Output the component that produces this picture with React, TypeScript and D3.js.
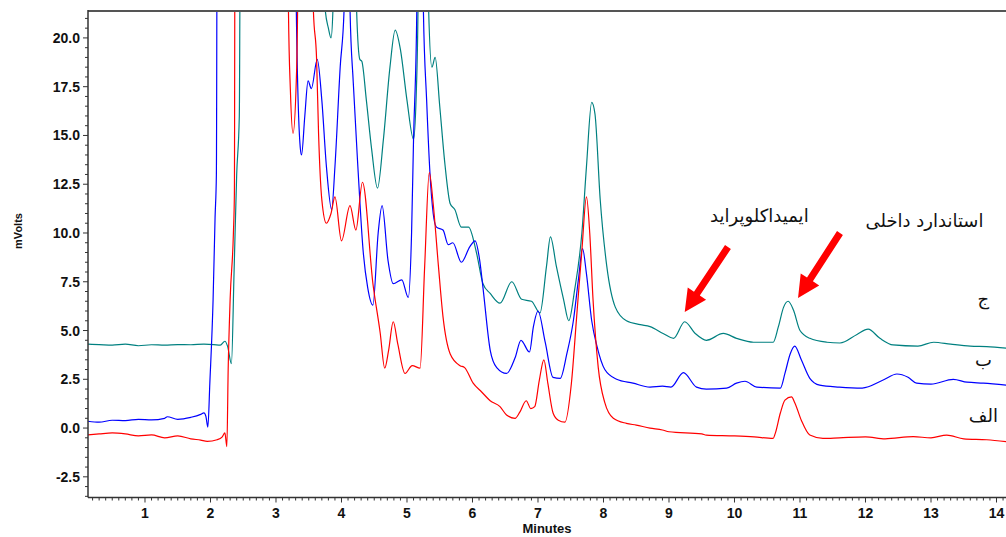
import React from 'react';
import * as d3 from 'd3';

// ---------- data (minutes, mVolts) ----------
const tealTrace: [number, number][] = [
  [0.13, 4.3], [0.3, 4.28], [0.5, 4.25], [0.7, 4.3], [0.9, 4.22], [1.1, 4.27], [1.3, 4.25], [1.5, 4.28],
  [1.7, 4.27], [1.9, 4.3], [2.05, 4.28], [2.15, 4.25], [2.22, 4.45], [2.26, 4.2], [2.32, 3.3], [2.36, 8],
  [2.4, 13], [2.44, 16], [2.47, 40], [3.7, 40], [3.75, 21.5], [3.8, 20.5], [3.84, 20.0], [3.87, 21.5],
  [3.9, 40], [4.2, 40], [4.23, 21.5], [4.28, 18.9], [4.31, 18.8], [4.38, 16.8], [4.46, 14.3], [4.55, 12.3],
  [4.64, 14.8], [4.74, 18.5], [4.82, 20.4], [4.9, 19.4], [5.0, 16.8], [5.1, 14.8], [5.14, 17], [5.17, 22],
  [5.2, 40], [5.3, 40], [5.33, 21.5], [5.38, 18.5], [5.43, 19.0], [5.5, 16.5], [5.58, 13.5], [5.66, 11.5],
  [5.73, 11.2], [5.83, 10.3], [5.94, 10.3], [6.06, 9.0], [6.16, 7.4], [6.27, 6.9], [6.42, 6.4], [6.6, 7.5],
  [6.75, 6.6], [6.9, 6.5], [7.03, 5.9], [7.13, 8.3], [7.19, 9.8], [7.28, 8.3], [7.39, 6.6], [7.47, 5.5],
  [7.56, 7.1], [7.67, 10.0], [7.74, 13.4], [7.82, 16.7], [7.87, 16.1], [7.95, 11.7], [8.05, 8.3], [8.18, 6.2],
  [8.35, 5.5], [8.56, 5.3], [8.71, 5.2], [8.91, 4.85], [9.07, 4.6], [9.24, 5.45], [9.4, 4.85], [9.57, 4.5],
  [9.83, 4.85], [10.03, 4.6], [10.29, 4.4], [10.59, 4.4], [10.67, 5.2], [10.75, 6.2], [10.82, 6.5], [10.9, 6.05],
  [11.0, 5.0], [11.15, 4.6], [11.41, 4.4], [11.61, 4.36], [11.87, 4.8], [12.04, 5.07], [12.22, 4.6], [12.42, 4.26],
  [12.8, 4.2], [13.04, 4.4], [13.3, 4.3], [13.6, 4.2], [13.85, 4.17], [14.15, 4.1],
];

const blueTrace: [number, number][] = [
  [0.13, 0.35], [0.3, 0.3], [0.5, 0.4], [0.7, 0.38], [0.9, 0.45], [1.1, 0.42], [1.3, 0.5], [1.34, 0.58],
  [1.5, 0.45], [1.7, 0.55], [1.85, 0.7], [1.9, 0.78], [1.93, 0.6], [1.96, 0.05], [1.99, 2.3], [2.04, 6.6],
  [2.07, 10.8], [2.09, 13], [2.11, 40], [3.28, 40], [3.31, 21.5], [3.37, 14.4], [3.39, 14.0], [3.44, 16],
  [3.49, 17.8], [3.54, 17.4], [3.63, 18.9], [3.7, 16.8], [3.77, 13.4], [3.85, 11.2], [3.9, 13.4], [3.98, 18.5],
  [4.04, 21.5], [4.06, 40], [4.11, 40], [4.13, 21.5], [4.18, 17.7], [4.25, 13.4], [4.33, 9.1], [4.4, 7.2],
  [4.48, 6.3], [4.56, 10.0], [4.62, 11.4], [4.71, 8.6], [4.79, 7.4], [4.92, 7.6], [5.02, 6.7], [5.07, 10.0],
  [5.1, 14.8], [5.15, 21.5], [5.17, 40], [5.23, 40], [5.25, 21.5], [5.3, 16.8], [5.35, 13.1], [5.4, 11.0],
  [5.45, 10.3], [5.55, 10.15], [5.63, 9.4], [5.7, 9.5], [5.83, 8.5], [5.96, 9.3], [6.04, 9.6], [6.11, 8.6],
  [6.16, 7.2], [6.27, 4.0], [6.37, 3.1], [6.52, 2.8], [6.65, 3.6], [6.74, 4.5], [6.87, 3.9], [6.93, 5.2],
  [7.0, 6.0], [7.11, 4.4], [7.23, 2.6], [7.34, 2.55], [7.44, 3.8], [7.54, 5.5], [7.62, 7.7], [7.68, 9.2],
  [7.74, 7.9], [7.82, 5.5], [7.9, 4.2], [8.02, 3.0], [8.2, 2.5], [8.45, 2.3], [8.71, 2.1], [8.9, 2.15],
  [9.03, 2.1], [9.22, 2.84], [9.42, 2.1], [9.57, 2.0], [9.88, 2.05], [10.03, 2.3], [10.16, 2.4], [10.34, 2.1],
  [10.7, 2.05], [10.77, 2.8], [10.85, 3.8], [10.92, 4.2], [11.02, 3.5], [11.15, 2.55], [11.3, 2.2], [11.6, 2.1],
  [11.95, 2.05], [12.27, 2.46], [12.48, 2.77], [12.65, 2.6], [12.78, 2.3], [13.0, 2.25], [13.34, 2.5],
  [13.55, 2.35], [13.8, 2.3], [14.15, 2.2],
];

const redTrace: [number, number][] = [
  [0.13, -0.35], [0.3, -0.3], [0.5, -0.25], [0.7, -0.3], [0.9, -0.4], [1.1, -0.35], [1.3, -0.5], [1.5, -0.4],
  [1.7, -0.55], [1.85, -0.62], [1.95, -0.68], [2.1, -0.6], [2.18, -0.45], [2.22, -0.25], [2.25, -0.95],
  [2.27, 3], [2.3, 6.6], [2.35, 10], [2.365, 12], [2.38, 40], [3.17, 40], [3.19, 21.5], [3.22, 17.3],
  [3.26, 15.1], [3.31, 17.8], [3.33, 21.5], [3.35, 40], [3.55, 40], [3.57, 21.5], [3.62, 18.9], [3.65, 15.1],
  [3.7, 11.7], [3.77, 10.5], [3.84, 11.0], [3.9, 11.85], [4.0, 9.6], [4.13, 11.4], [4.22, 10.15], [4.32, 12.6],
  [4.48, 7.4], [4.59, 4.9], [4.66, 3.07], [4.72, 4.0], [4.79, 5.45], [4.86, 4.3], [4.97, 2.8], [5.08, 3.2],
  [5.2, 3.07], [5.27, 8.3], [5.34, 13.1], [5.4, 11.5], [5.48, 8.3], [5.55, 5.7], [5.66, 3.8], [5.81, 3.2],
  [5.88, 3.1], [6.01, 2.3], [6.14, 1.85], [6.27, 1.4], [6.42, 1.1], [6.52, 0.67], [6.65, 0.5], [6.72, 0.8],
  [6.82, 1.4], [6.89, 1.0], [6.95, 1.1], [7.02, 2.45], [7.09, 3.5], [7.15, 2.3], [7.23, 0.77], [7.31, 0.4],
  [7.41, 0.3], [7.51, 2.3], [7.59, 5.7], [7.67, 9.1], [7.74, 11.85], [7.79, 10.0], [7.84, 6.6], [7.92, 3.1],
  [8.02, 1.3], [8.15, 0.5], [8.35, 0.24], [8.5, 0.15], [8.71, 0.0], [8.9, -0.1], [9.0, -0.19], [9.5, -0.3],
  [9.57, -0.36], [10.0, -0.4], [10.3, -0.45], [10.59, -0.53], [10.62, -0.3], [10.7, 0.77], [10.77, 1.43],
  [10.87, 1.6], [10.92, 1.3], [11.02, 0.4], [11.15, -0.36], [11.35, -0.53], [11.6, -0.5], [12.0, -0.45],
  [12.3, -0.55], [12.73, -0.44], [13.0, -0.5], [13.24, -0.36], [13.5, -0.55], [13.85, -0.6], [14.15, -0.7],
];

const seriesColors = ['#008080', '#0000ff', '#ff0000'];
const seriesNames = ['ج', 'ب', 'الف'];
// label anchor positions (minutes, mVolts)
const seriesLabelPos: [number, number][] = [[13.8, 6.3], [13.8, 3.2], [13.8, 0.3]];

const xTickLabels = [1, 2, 3, 4, 5, 6, 7, 8, 9, 10, 11, 12, 13, 14];
const yTickLabels = [-2.5, 0, 2.5, 5, 7.5, 10, 12.5, 15, 17.5, 20];

const annotationTexts = ['ایمیداکلوپراید', 'استاندارد داخلی'];
const annotationTextPos: [number, number][] = [[10.38, 10.55], [12.9, 10.3]];
// arrows: [tailT, tailV, tipT, tipV]
const arrowDefs: [number, number, number, number][] = [
  [9.9, 9.28, 9.24, 5.95],
  [11.61, 10.0, 10.97, 6.67],
];

const W = 1006;
const H = 537;
const L = 88, R = 1006, T = 11, B = 497.5;

export default function App() {
  const x = d3.scaleLinear().domain([0.13, 14.145]).range([L, R]);
  const y = d3.scaleLinear().domain([-3.56, 21.38]).range([B, T]);
  const line = d3.line<[number, number]>().x(d => x(d[0])).y(d => y(d[1])).curve(d3.curveMonotoneX);
  const traces = [tealTrace, blueTrace, redTrace];

  const xMinor = d3.range(2, 142).map(i => i / 10);
  const yMinor = d3.range(-7, 43).map(i => i / 2);

  const arrowPoly = (a: [number, number, number, number]) => {
    const x1 = x(a[0]), y1 = y(a[1]), x2 = x(a[2]), y2 = y(a[3]);
    const dx = x2 - x1, dy = y2 - y1;
    const len = Math.hypot(dx, dy);
    const ux = dx / len, uy = dy / len;
    const px = -uy, py = ux;
    const sw = 3.5, hw = 11, hl = 22;
    const bx = x2 - ux * hl, by = y2 - uy * hl;
    const pts = [
      [x1 + px * sw, y1 + py * sw],
      [bx + px * sw, by + py * sw],
      [bx + px * hw, by + py * hw],
      [x2, y2],
      [bx - px * hw, by - py * hw],
      [bx - px * sw, by - py * sw],
      [x1 - px * sw, y1 - py * sw],
    ];
    return pts.map(p => p.join(',')).join(' ');
  };

  return (
    <svg width={W} height={H} style={{ position: 'absolute', left: 0, top: 0, background: '#fff' }}>
      <defs>
        <clipPath id="plotclip">
          <rect x={L} y={T} width={R - L} height={B - T} />
        </clipPath>
      </defs>
      <rect x={0} y={0} width={W} height={H} fill="#fff" />
      <g clipPath="url(#plotclip)">
        {traces.map((tr, i) => (
          <path key={i} d={line(tr) || ''} fill="none" stroke={seriesColors[i]} strokeWidth={1.2} strokeLinejoin="round" />
        ))}
      </g>
      {/* frame */}
      <line x1={L} x2={R} y1={T} y2={T} stroke="#555" strokeWidth={2} />
      <line x1={L} x2={L} y1={T - 1} y2={B} stroke="#333" strokeWidth={1.5} />
      <line x1={L} x2={R} y1={B} y2={B} stroke="#333" strokeWidth={1.5} />
      {/* x ticks */}
      {xMinor.map(v => (
        <line key={'xt' + v} x1={x(v)} x2={x(v)} y1={B} y2={B + (Math.round(v * 10) % 10 === 0 ? 5 : 3)} stroke="#333" strokeWidth={1} />
      ))}
      {xTickLabels.map(v => (
        <text key={'xl' + v} x={x(v)} y={518} textAnchor="middle" fontFamily="Liberation Sans, Arial, sans-serif" fontWeight="bold" fontSize={14} fill="#111">{v}</text>
      ))}
      {/* y ticks */}
      {yMinor.map(v => (
        <line key={'yt' + v} x1={L - (Math.round(v * 2) % 5 === 0 ? 5 : 3)} x2={L} y1={y(v)} y2={y(v)} stroke="#333" strokeWidth={1} />
      ))}
      {yTickLabels.map(v => (
        <text key={'yl' + v} x={80} y={y(v) + 5} textAnchor="end" fontFamily="Liberation Sans, Arial, sans-serif" fontWeight="bold" fontSize={14} fill="#111">{v.toFixed(1)}</text>
      ))}
      <text x={547} y={533} textAnchor="middle" fontFamily="Liberation Sans, Arial, sans-serif" fontWeight="bold" fontSize={13} fill="#111">Minutes</text>
      <text transform="translate(22,231) rotate(-90)" textAnchor="middle" fontFamily="Liberation Sans, Arial, sans-serif" fontWeight="bold" fontSize={11} fill="#111">mVolts</text>
      {/* annotations */}
      {arrowDefs.map((a, i) => (
        <polygon key={'ar' + i} points={arrowPoly(a)} fill="#ff0000" />
      ))}
      {annotationTexts.map((t, i) => (
        <text key={'an' + i} x={x(annotationTextPos[i][0])} y={y(annotationTextPos[i][1])} textAnchor="middle" fontFamily="DejaVu Sans, sans-serif" fontSize={18} fill="#111">{t}</text>
      ))}
      {seriesNames.map((n, i) => (
        <text key={'sn' + i} x={x(seriesLabelPos[i][0])} y={y(seriesLabelPos[i][1])} textAnchor="middle" fontFamily="DejaVu Sans, sans-serif" fontSize={18} fill="#111">{n}</text>
      ))}
    </svg>
  );
}
